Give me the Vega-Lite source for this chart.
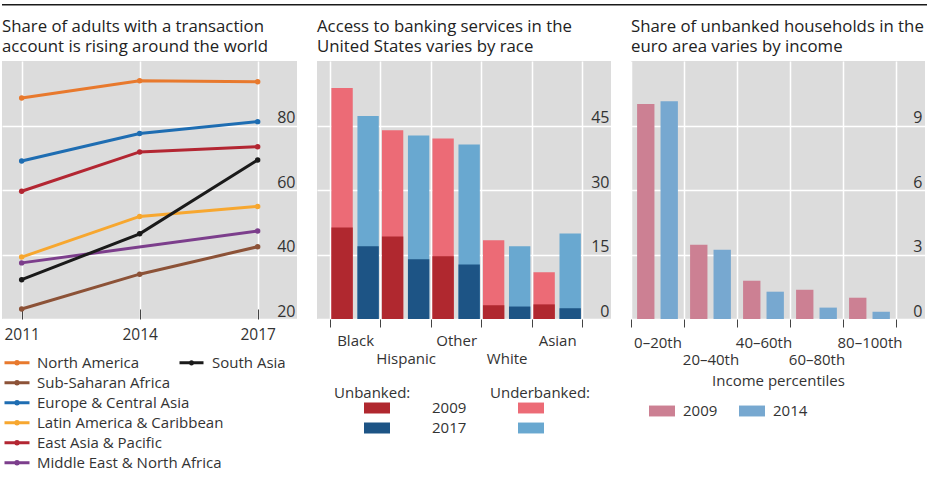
{
  "$schema": "https://vega.github.io/schema/vega-lite/v6.json",
  "padding": {"left": 2, "top": 4, "right": 0, "bottom": 0},
  "background": "white",
  "config": {
    "font": "Open Sans",
    "view": {"stroke": null},
    "title": {"anchor": "start", "frame": "group", "fontSize": 16.8, "fontWeight": "normal", "color": "#222", "lineHeight": 20, "offset": 5},
    "axis": {"labelFontSize": 15, "labelColor": "#333", "domain": false, "gridColor": "white", "gridWidth": 1.5, "tickColor": "#444"},
    "legend": {"labelFontSize": 15, "labelColor": "#333", "titleFontSize": 15, "titleFontWeight": "normal", "titleColor": "#333", "labelLimit": 300}
  },
  "spacing": 55,
  "bounds": "flush",
  "vconcat": [
    {
      "width": 925,
      "height": 1.4,
      "view": {"fill": "#1a1a1a", "stroke": null},
      "data": {"values": [{}]},
      "mark": {"type": "point", "size": 0, "opacity": 0},
      "encoding": {}
    },
    {
      "hconcat": [
        {
          "width": 295,
          "height": 258,
          "view": {"fill": "#dcdcdc"},
          "title": {"text": ["Share of adults with a transaction", "account is rising around the world"]},
          "data": {"values": [
            {"region": "North America", "year": 2011, "share": 88.5},
            {"region": "North America", "year": 2014, "share": 93.9},
            {"region": "North America", "year": 2017, "share": 93.6},
            {"region": "Sub-Saharan Africa", "year": 2011, "share": 23.1},
            {"region": "Sub-Saharan Africa", "year": 2014, "share": 33.9},
            {"region": "Sub-Saharan Africa", "year": 2017, "share": 42.4},
            {"region": "Europe & Central Asia", "year": 2011, "share": 69.0},
            {"region": "Europe & Central Asia", "year": 2014, "share": 77.5},
            {"region": "Europe & Central Asia", "year": 2017, "share": 81.2},
            {"region": "Latin America & Caribbean", "year": 2011, "share": 39.2},
            {"region": "Latin America & Caribbean", "year": 2014, "share": 51.8},
            {"region": "Latin America & Caribbean", "year": 2017, "share": 54.9},
            {"region": "East Asia & Pacific", "year": 2011, "share": 59.6},
            {"region": "East Asia & Pacific", "year": 2014, "share": 71.8},
            {"region": "East Asia & Pacific", "year": 2017, "share": 73.4},
            {"region": "Middle East & North Africa", "year": 2011, "share": 37.4},
            {"region": "Middle East & North Africa", "year": 2017, "share": 47.3},
            {"region": "South Asia", "year": 2011, "share": 32.2},
            {"region": "South Asia", "year": 2014, "share": 46.4},
            {"region": "South Asia", "year": 2017, "share": 69.3}
          ]},
          "encoding": {
            "x": {"field": "year", "type": "quantitative", "scale": {"domain": [2010.5, 2018], "nice": false},
                  "axis": {"title": null, "values": [2011, 2014, 2017], "format": "d", "grid": true, "tickSize": -10, "labelPadding": 18, "labelFontSize": 15.5}},
            "y": {"field": "share", "type": "quantitative", "scale": {"domain": [20, 100], "nice": false},
                  "axis": {"title": null, "orient": "right", "values": [20, 40, 60, 80], "grid": true, "ticks": false, "labelAlign": "right", "labelBaseline": "bottom", "labelPadding": -2, "minExtent": 0, "labelFontSize": 16}}
          },
          "layer": [
            {
              "transform": [{"filter": "datum.region != 'South Asia'"}],
              "mark": {"type": "line", "strokeWidth": 3, "point": {"size": 30, "filled": true}},
              "encoding": {
                "color": {"field": "region", "type": "nominal",
                  "scale": {"domain": ["North America", "Sub-Saharan Africa", "Europe & Central Asia", "Latin America & Caribbean", "East Asia & Pacific", "Middle East & North Africa"],
                            "range": ["#E8792D", "#8C5237", "#1E6DB2", "#F7A72F", "#B32632", "#7C3E8C"]},
                  "legend": {"orient": "none", "legendX": 1, "legendY": 292, "title": null, "symbolType": "M-1,0H1M0.1,0A0.1,0.1,0,1,1,-0.1,0A0.1,0.1,0,1,1,0.1,0", "symbolSize": 625, "symbolStrokeWidth": 3, "labelOffset": 6, "rowPadding": 0, "clipHeight": 19.7}}
              }
            },
            {
              "transform": [{"filter": "datum.region == 'South Asia'"}],
              "mark": {"type": "line", "strokeWidth": 3, "point": {"size": 30, "filled": true}},
              "encoding": {
                "color": {"field": "region", "type": "nominal",
                  "scale": {"domain": ["South Asia"], "range": ["#1A1A1A"]},
                  "legend": {"orient": "none", "legendX": 176, "legendY": 292, "title": null, "symbolType": "M-1,0H1M0.1,0A0.1,0.1,0,1,1,-0.1,0A0.1,0.1,0,1,1,0.1,0", "symbolSize": 576, "symbolStrokeWidth": 3, "labelOffset": 7, "clipHeight": 19.7}}
              }
            }
          ],
          "resolve": {"scale": {"color": "independent"}}
        },
        {
          "width": 294,
          "height": 258,
          "view": {"fill": "#dcdcdc"},
          "title": {"text": ["Access to banking services in the", "United States varies by race"]},
          "data": {"values": [
            {"race": "Black", "year": "2009", "status": "Unbanked", "value": 21.3},
            {"race": "Black", "year": "2009", "status": "Underbanked", "value": 32.4},
            {"race": "Black", "year": "2017", "status": "Unbanked", "value": 16.9},
            {"race": "Black", "year": "2017", "status": "Underbanked", "value": 30.3},
            {"race": "Hispanic", "year": "2009", "status": "Unbanked", "value": 19.2},
            {"race": "Hispanic", "year": "2009", "status": "Underbanked", "value": 24.7},
            {"race": "Hispanic", "year": "2017", "status": "Unbanked", "value": 13.9},
            {"race": "Hispanic", "year": "2017", "status": "Underbanked", "value": 28.8},
            {"race": "Other", "year": "2009", "status": "Unbanked", "value": 14.6},
            {"race": "Other", "year": "2009", "status": "Underbanked", "value": 27.4},
            {"race": "Other", "year": "2017", "status": "Unbanked", "value": 12.7},
            {"race": "Other", "year": "2017", "status": "Underbanked", "value": 27.9},
            {"race": "White", "year": "2009", "status": "Unbanked", "value": 3.2},
            {"race": "White", "year": "2009", "status": "Underbanked", "value": 15.1},
            {"race": "White", "year": "2017", "status": "Unbanked", "value": 2.9},
            {"race": "White", "year": "2017", "status": "Underbanked", "value": 14.0},
            {"race": "Asian", "year": "2009", "status": "Unbanked", "value": 3.4},
            {"race": "Asian", "year": "2009", "status": "Underbanked", "value": 7.5},
            {"race": "Asian", "year": "2017", "status": "Unbanked", "value": 2.5},
            {"race": "Asian", "year": "2017", "status": "Underbanked", "value": 17.4}
          ]},
          "encoding": {
            "x": {"field": "race", "type": "nominal", "sort": ["Black", "Hispanic", "Other", "White", "Asian"],
                  "scale": {"paddingInner": 0, "paddingOuter": 0.41, "align": 0.31},
                  "axis": {"title": null, "labelAngle": 0, "tickBand": "extent", "grid": true, "tickSize": 8,
                           "labelPadding": {"condition": {"test": "datum.value == 'Hispanic' || datum.value == 'White'", "value": 24}, "value": 6}}},
            "xOffset": {"field": "year", "type": "nominal", "scale": {"paddingInner": 0.18, "paddingOuter": 0.06}}
          },
          "layer": [
            {
              "mark": "bar",
              "encoding": {
                "y": {"aggregate": "sum", "field": "value", "type": "quantitative", "stack": null, "scale": {"domain": [0, 60], "nice": false},
                      "axis": {"title": null, "orient": "right", "values": [0, 15, 30, 45], "grid": true, "ticks": false, "labelAlign": "right", "labelBaseline": "bottom", "labelPadding": -2, "minExtent": 0, "labelFontSize": 16}},
                "color": {"field": "year", "type": "nominal", "scale": {"domain": ["2009", "2017"], "range": ["#EC6B76", "#69A8D0"]},
                  "legend": {"orient": "none", "legendX": 173, "legendY": 325, "title": "Underbanked:", "symbolType": "M-1,-0.42H1V0.42H-1Z", "symbolSize": 676, "symbolOffset": 27, "labelExpr": "''", "titlePadding": -3, "rowPadding": 0, "clipHeight": 20}}
              }
            },
            {
              "transform": [{"filter": "datum.status == 'Unbanked'"}],
              "mark": "bar",
              "encoding": {
                "y": {"field": "value", "type": "quantitative", "stack": null, "scale": {"domain": [0, 60], "nice": false},
                      "axis": {"title": null, "orient": "right", "values": [0, 15, 30, 45], "grid": true, "ticks": false, "labelAlign": "right", "labelBaseline": "bottom", "labelPadding": -2, "minExtent": 0, "labelFontSize": 16}},
                "color": {"field": "year", "type": "nominal", "scale": {"domain": ["2009", "2017"], "range": ["#B0282F", "#1D5485"]},
                  "legend": {"orient": "none", "legendX": 17, "legendY": 325, "title": "Unbanked:", "symbolType": "M-1,-0.42H1V0.42H-1Z", "symbolSize": 676, "symbolOffset": 29, "labelOffset": 41, "titlePadding": -3, "rowPadding": 0, "clipHeight": 20}}
              }
            }
          ],
          "resolve": {"scale": {"color": "independent"}}
        },
        {
          "width": 294,
          "height": 258,
          "view": {"fill": "#dcdcdc"},
          "title": {"text": ["Share of unbanked households in the", "euro area varies by income"]},
          "data": {"values": [
            {"pct": "0–20th", "year": "2009", "value": 10.0},
            {"pct": "0–20th", "year": "2014", "value": 10.13},
            {"pct": "20–40th", "year": "2009", "value": 3.45},
            {"pct": "20–40th", "year": "2014", "value": 3.22},
            {"pct": "40–60th", "year": "2009", "value": 1.78},
            {"pct": "40–60th", "year": "2014", "value": 1.27},
            {"pct": "60–80th", "year": "2009", "value": 1.36},
            {"pct": "60–80th", "year": "2014", "value": 0.53},
            {"pct": "80–100th", "year": "2009", "value": 0.99},
            {"pct": "80–100th", "year": "2014", "value": 0.34}
          ]},
          "mark": "bar",
          "encoding": {
            "x": {"field": "pct", "type": "nominal", "sort": ["0–20th", "20–40th", "40–60th", "60–80th", "80–100th"],
                  "scale": {"paddingInner": 0, "paddingOuter": 0.274, "align": 0},
                  "axis": {"title": "Income percentiles", "titlePadding": 6, "titleFontSize": 15, "titleFontWeight": "normal", "titleColor": "#333",
                           "labelAngle": 0, "tickBand": "extent", "grid": true, "tickSize": 8,
                           "labelPadding": {"condition": {"test": "datum.value == '20–40th' || datum.value == '60–80th'", "value": 25}, "value": 8}}},
            "xOffset": {"field": "year", "type": "nominal", "scale": {"paddingInner": 0.26, "paddingOuter": 0.26}},
            "y": {"field": "value", "type": "quantitative", "scale": {"domain": [0, 12], "nice": false},
                  "axis": {"title": null, "orient": "right", "values": [0, 3, 6, 9], "grid": true, "ticks": false, "labelAlign": "right", "labelBaseline": "bottom", "labelPadding": -3, "minExtent": 0, "labelFontSize": 16}},
            "color": {"field": "year", "type": "nominal", "scale": {"domain": ["2009", "2014"], "range": ["#CC8093", "#77A8D0"]},
              "legend": {"orient": "none", "direction": "horizontal", "legendX": 17, "legendY": 336, "title": null, "symbolType": "M-1,-0.42H1V0.42H-1Z", "symbolSize": 676, "labelOffset": 7, "columnPadding": 20}}
          }
        }
      ],
      "spacing": 20,
      "bounds": "flush",
      "resolve": {"scale": {"color": "independent", "xOffset": "independent"}, "legend": {"color": "independent"}}
    }
  ]
}
